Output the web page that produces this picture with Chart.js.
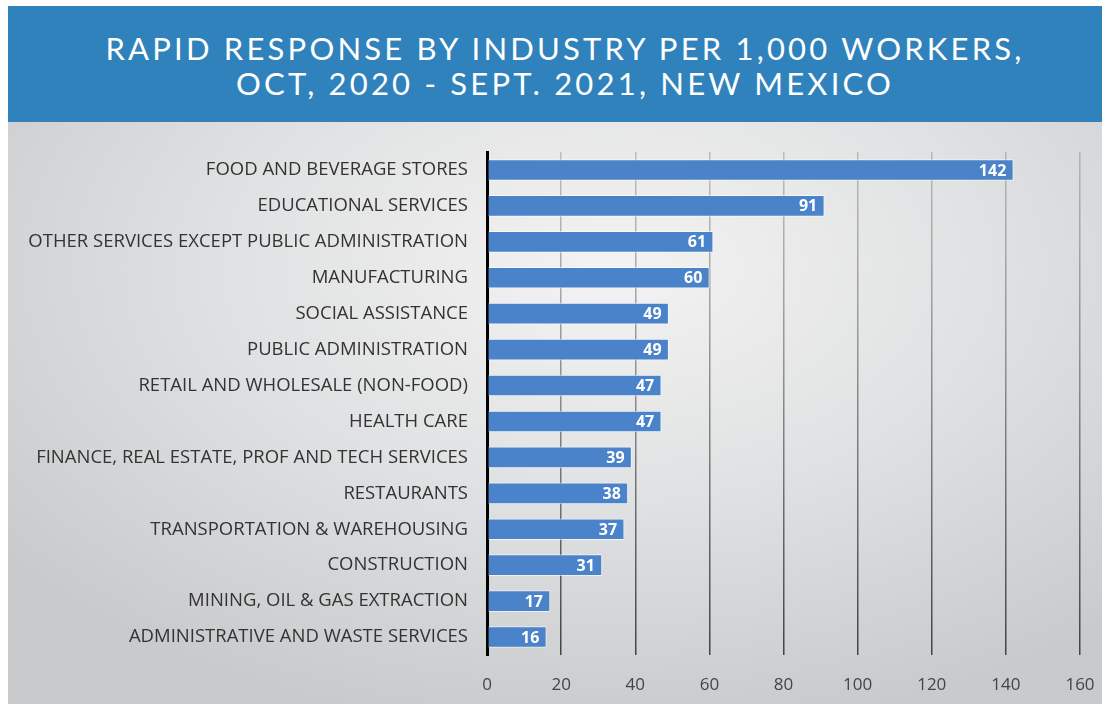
<!DOCTYPE html>
<html>
<head>
<meta charset="utf-8">
<script src="https://cdn.jsdelivr.net/npm/chart.js@4"></script>
<style>
  html, body { margin: 0; padding: 0; background: #fff; }
  body { width: 1110px; height: 704px; position: relative; overflow: hidden; }
  .header {
    position: absolute; left: 8px; top: 6px; width: 1094px; height: 116px;
    background: #2f82bb; color: #fff; text-align: center;
    font-family: Lato, "Open Sans", sans-serif; font-size: 31px; letter-spacing: 3.2px;
    line-height: 35px; padding-top: 25px; padding-left: 20px; box-sizing: border-box;
  }
  .panel {
    position: absolute; left: 8px; top: 122px; width: 1094px; height: 582px;
    background: radial-gradient(ellipse 70% 80% at 55% 25%, #f3f3f3 0%, #e0e1e2 50%, #c8cacc 100%);
  }
</style>
</head>
<body>
<div class="header">RAPID RESPONSE BY INDUSTRY PER 1,000 WORKERS,<br>OCT, 2020 - SEPT. 2021, NEW MEXICO</div>
<div class="panel"><canvas id="chart" width="1094" height="582"></canvas></div>
<script>
// Chart data
const industries = [
    'FOOD AND BEVERAGE STORES',
    'EDUCATIONAL SERVICES',
    'OTHER SERVICES EXCEPT PUBLIC ADMINISTRATION',
    'MANUFACTURING',
    'SOCIAL ASSISTANCE',
    'PUBLIC ADMINISTRATION',
    'RETAIL AND WHOLESALE (NON-FOOD)',
    'HEALTH CARE',
    'FINANCE, REAL ESTATE, PROF AND TECH SERVICES',
    'RESTAURANTS',
    'TRANSPORTATION & WAREHOUSING',
    'CONSTRUCTION',
    'MINING, OIL & GAS EXTRACTION',
    'ADMINISTRATIVE AND WASTE SERVICES'
];
const perThousand = [142, 91, 61, 60, 49, 49, 47, 47, 39, 38, 37, 31, 17, 16];
const xTicks = [0, 20, 40, 60, 80, 100, 120, 140, 160];

const labelFont = '"Open Sans", Lato, sans-serif';

// Draw the value inside the end of each bar
const barValues = {
    id: 'barValues',
    afterDatasetsDraw(chart) {
        const { ctx } = chart;
        const meta = chart.getDatasetMeta(0);
        ctx.save();
        ctx.fillStyle = '#ffffff';
        ctx.font = 'bold 16px ' + labelFont;
        ctx.textAlign = 'right';
        ctx.textBaseline = 'middle';
        meta.data.forEach((bar, i) => {
            ctx.fillText(perThousand[i], bar.x - 7, bar.y + 1);
        });
        ctx.restore();
    }
};

// Grid lines fade out towards the top
const gridColor = (c) => {
    if (c.tick && c.tick.value === 0) return '#000000';
    const area = c.chart.chartArea;
    if (!area) return '#777';
    const g = c.chart.ctx.createLinearGradient(0, area.top, 0, area.bottom);
    g.addColorStop(0, 'rgba(120,120,120,0.4)');
    g.addColorStop(1, 'rgba(60,60,60,0.95)');
    return g;
};

new Chart(document.getElementById('chart'), {
    type: 'bar',
    data: {
        labels: industries,
        datasets: [{
            data: perThousand,
            backgroundColor: '#4a83c9',
            borderColor: 'rgba(255,255,255,0.6)',
            borderWidth: 1,
            barThickness: 21
        }]
    },
    options: {
        indexAxis: 'y',
        responsive: false,
        animation: false,
        devicePixelRatio: 1,
        layout: { padding: { top: 30, right: 22, left: 0, bottom: 0 } },
        plugins: {
            legend: { display: false },
            tooltip: { enabled: false }
        },
        scales: {
            x: {
                min: 0,
                max: 160,
                afterBuildTicks: (s) => { s.ticks = xTicks.map(v => ({ value: v })); },
                afterFit: (s) => { s.height = 49; s.paddingRight = 0; s.paddingLeft = 0; },
                grid: {
                    color: gridColor,
                    lineWidth: (c) => (c.tick && c.tick.value === 0 ? 3 : 1.5),
                    drawTicks: false
                },
                border: { display: false },
                ticks: {
                    color: '#444',
                    padding: 20,
                    maxRotation: 0,
                    font: { family: labelFont, size: 17 }
                }
            },
            y: {
                afterFit: (s) => { s.width = 479; },
                grid: { display: false },
                border: { color: '#000', width: 3 },
                ticks: {
                    color: '#333',
                    padding: 11,
                    font: { family: labelFont, size: 18.5 }
                }
            }
        }
    },
    plugins: [barValues]
});
</script>
</body>
</html>
